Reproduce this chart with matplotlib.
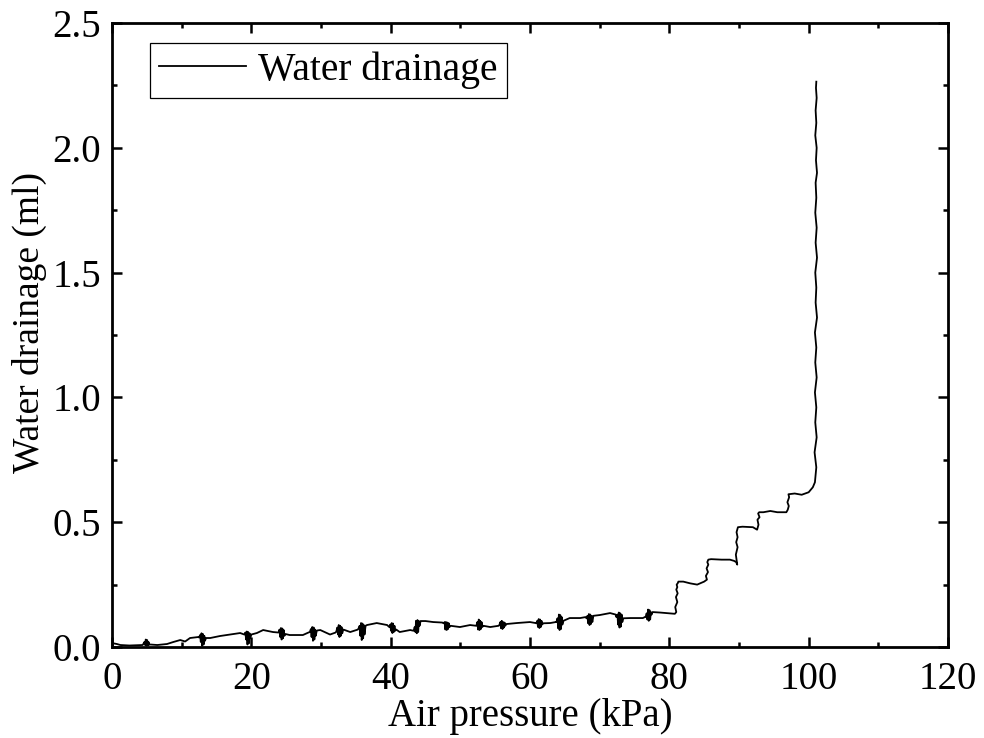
import matplotlib
matplotlib.use("Agg")
import matplotlib.pyplot as plt
from matplotlib.ticker import MultipleLocator, FormatStrFormatter

plt.rcParams['font.family'] = ['Liberation Serif', 'DejaVu Serif']

# Air pressure (kPa)
pressure = [
    0.0, 0.15, 0.7, 1.2, 2.5, 4.4,
    4.5, 4.65, 4.75, 4.85, 4.95, 5.05, 5.15, 5.25, 5.35, 5.5,
    6.5, 7.9, 8.8, 9.8, 10.5, 11.2, 12.4,
    12.5, 12.65, 12.75, 12.85, 12.95, 13.05, 13.15, 13.25, 13.35, 13.5,
    14.1, 15.5, 16.5, 18.4,
    19.0, 19.15, 19.25, 19.35, 19.45, 19.55, 19.65, 19.75, 19.85, 20.0,
    20.8, 21.7, 23.1,
    23.9, 24.05, 24.15, 24.25, 24.35, 24.45, 24.55, 24.65, 24.75, 24.9,
    25.5, 27.4, 28.2,
    28.4, 28.55, 28.65, 28.75, 28.85, 28.95, 29.05, 29.15, 29.25, 29.4,
    29.9, 31.3, 32.1,
    32.2, 32.35, 32.45, 32.55, 32.65, 32.75, 32.85, 32.95, 33.05, 33.2,
    34.2, 35.3,
    35.4, 35.55, 35.65, 35.75, 35.85, 35.95, 36.05, 36.15, 36.25, 36.4,
    36.6, 38.0, 39.5,
    39.8, 39.95, 40.05, 40.15, 40.25, 40.35, 40.45, 40.55, 40.65, 40.8,
    41.3, 42.8,
    43.3, 43.45, 43.55, 43.65, 43.75, 43.85, 43.95, 44.05, 44.15, 44.3,
    45.0, 46.1, 47.4,
    47.6, 47.75, 47.85, 47.95, 48.05, 48.15, 48.25, 48.35, 48.45, 48.6,
    49.95, 51.4, 52.2,
    52.3, 52.45, 52.55, 52.65, 52.75, 52.85, 52.95, 53.05, 53.15, 53.3,
    54.3, 55.5,
    55.6, 55.75, 55.85, 55.95, 56.05, 56.15, 56.25, 56.35, 56.45, 56.6,
    58.1, 60.0, 60.8,
    60.9, 61.05, 61.15, 61.25, 61.35, 61.45, 61.55, 61.65, 61.75, 61.9,
    62.9, 63.7,
    63.8, 63.95, 64.05, 64.15, 64.25, 64.35, 64.45, 64.55, 64.65, 64.8,
    65.7, 67.2, 68.0,
    68.1, 68.25, 68.35, 68.45, 68.55, 68.65, 68.75, 68.85, 68.95, 69.1,
    70.0, 71.5, 72.3,
    72.4, 72.55, 72.65, 72.75, 72.85, 72.95, 73.05, 73.15, 73.25, 73.4,
    74.4, 76.2, 76.5,
    76.6, 76.75, 76.85, 76.95, 77.05, 77.15, 77.25, 77.35, 77.45, 77.6,
    78.7, 80.0, 80.8,
    81.0, 80.85, 81.15, 80.95, 81.2, 81.0, 81.15, 81.05, 81.2, 81.3, 82.0, 83.0, 84.0, 85.0,
    85.4, 85.25, 85.55, 85.35, 85.6, 85.45, 85.6, 86.0, 87.5, 88.7, 89.3,
    89.6, 89.75, 89.55, 89.8, 89.6, 89.8, 89.65, 89.85, 90.5, 92.0, 92.6,
    92.8, 92.65, 92.95, 92.75, 92.9, 93.5, 94.5, 95.5, 96.8,
    97.0, 97.15, 96.95, 97.2, 97.1, 98.0, 99.0, 100.0, 100.6,
    100.9, 101.1, 100.85, 101.15, 100.95, 101.1, 100.9, 101.15, 100.95, 101.1,
    100.9, 101.2, 101.0, 101.1, 100.95, 101.2, 101.0, 101.15, 100.95, 101.1,
    101.0, 101.2, 101.05, 101.15, 100.95, 101.1, 101.0, 101.15, 101.05, 101.1,
]

# Water drainage (ml)
drainage = [
    0.012, 0.015, 0.012, 0.008, 0.006, 0.008,
    0.012, 0.02, 0.008, 0.03, 0.005, 0.028, 0.006, 0.02, 0.009, 0.01,
    0.008, 0.012, 0.02, 0.028, 0.022, 0.036, 0.04,
    0.038, 0.048, 0.02, 0.055, 0.005, 0.052, 0.01, 0.045, 0.025, 0.036,
    0.036, 0.044, 0.048, 0.056,
    0.05, 0.058, 0.03, 0.062, 0.01, 0.06, 0.015, 0.055, 0.035, 0.05,
    0.056, 0.068, 0.06,
    0.058, 0.07, 0.04, 0.076, 0.03, 0.074, 0.035, 0.068, 0.045, 0.052,
    0.048, 0.048, 0.058,
    0.06, 0.072, 0.04, 0.08, 0.025, 0.078, 0.03, 0.07, 0.045, 0.066,
    0.068, 0.05, 0.058,
    0.062, 0.078, 0.05, 0.088, 0.04, 0.085, 0.045, 0.08, 0.055, 0.07,
    0.06, 0.07,
    0.075, 0.085, 0.045, 0.096, 0.028, 0.094, 0.035, 0.088, 0.05, 0.085,
    0.088, 0.096, 0.088,
    0.08, 0.09, 0.065, 0.096, 0.056, 0.094, 0.06, 0.085, 0.065, 0.07,
    0.06, 0.068,
    0.065, 0.08, 0.06, 0.105, 0.055, 0.108, 0.06, 0.104, 0.085, 0.104,
    0.104, 0.1, 0.098,
    0.095, 0.1, 0.07, 0.1, 0.068, 0.098, 0.072, 0.095, 0.08, 0.085,
    0.08, 0.088, 0.085,
    0.085, 0.1, 0.07, 0.11, 0.068, 0.105, 0.072, 0.1, 0.08, 0.085,
    0.08, 0.085,
    0.088, 0.1, 0.075, 0.105, 0.072, 0.1, 0.078, 0.098, 0.085, 0.092,
    0.096, 0.1, 0.096,
    0.095, 0.105, 0.08, 0.112, 0.076, 0.11, 0.08, 0.105, 0.09, 0.095,
    0.096, 0.1,
    0.1, 0.115, 0.075, 0.13, 0.068, 0.128, 0.072, 0.12, 0.09, 0.105,
    0.116, 0.116, 0.12,
    0.115, 0.125, 0.095, 0.132, 0.088, 0.13, 0.092, 0.125, 0.1, 0.125,
    0.128, 0.136, 0.13,
    0.12, 0.13, 0.09, 0.138, 0.078, 0.135, 0.082, 0.13, 0.1, 0.115,
    0.116, 0.116, 0.12,
    0.12, 0.135, 0.11, 0.15, 0.105, 0.148, 0.11, 0.14, 0.13, 0.14,
    0.138, 0.135, 0.133,
    0.14, 0.16, 0.18, 0.2, 0.215, 0.23, 0.24, 0.25, 0.255, 0.262, 0.262, 0.255, 0.25, 0.262,
    0.27, 0.285, 0.3, 0.315, 0.33, 0.34, 0.35, 0.352, 0.35, 0.35, 0.345,
    0.34, 0.33, 0.37, 0.4, 0.42, 0.44, 0.46, 0.48, 0.482, 0.48, 0.47,
    0.49, 0.51, 0.52, 0.535, 0.54, 0.54, 0.545, 0.54, 0.54,
    0.55, 0.565, 0.58, 0.6, 0.612, 0.615, 0.61, 0.62, 0.64,
    0.66, 0.72, 0.78, 0.84, 0.9, 0.96, 1.02, 1.08, 1.14, 1.2,
    1.26, 1.32, 1.38, 1.44, 1.5, 1.56, 1.62, 1.68, 1.74, 1.8,
    1.86, 1.9, 1.95, 2.0, 2.05, 2.1, 2.15, 2.2, 2.24, 2.265,
]

FS = 28

fig = plt.figure(figsize=(9.84, 7.38), dpi=100)
ax = fig.add_axes([0.1138, 0.1233, 0.8496, 0.8455])

ax.plot(pressure, drainage, color='black', linewidth=1.3, label='Water drainage')

ax.set_xlim(0, 120)
ax.set_ylim(0, 2.5)
ax.xaxis.set_major_locator(MultipleLocator(20))
ax.xaxis.set_minor_locator(MultipleLocator(10))
ax.yaxis.set_major_locator(MultipleLocator(0.5))
ax.yaxis.set_minor_locator(MultipleLocator(0.25))
ax.yaxis.set_major_formatter(FormatStrFormatter('%.1f'))

ax.tick_params(which='both', direction='in', top=True, right=True, width=1.8,
               labelsize=FS)
ax.tick_params(axis='x', pad=10)
ax.tick_params(axis='y', pad=8)
ax.tick_params(which='major', length=7.5)
ax.tick_params(which='minor', length=3.8)
for s in ax.spines.values():
    s.set_linewidth(2.0)

ax.set_xlabel('Air pressure (kPa)', fontsize=FS, labelpad=0)
ax.set_ylabel('Water drainage (ml)', fontsize=27)
ax.yaxis.set_label_coords(-0.078, 0.52)

leg = ax.legend(loc='upper left', fontsize=28.5, frameon=True, fancybox=False,
                edgecolor='black', handlelength=2.2, borderpad=0.22,
                handletextpad=0.32, bbox_to_anchor=(0.0455, 0.968),
                borderaxespad=0, framealpha=1)
leg.get_frame().set_linewidth(0.9)

fig.savefig('out.png', dpi=100)
